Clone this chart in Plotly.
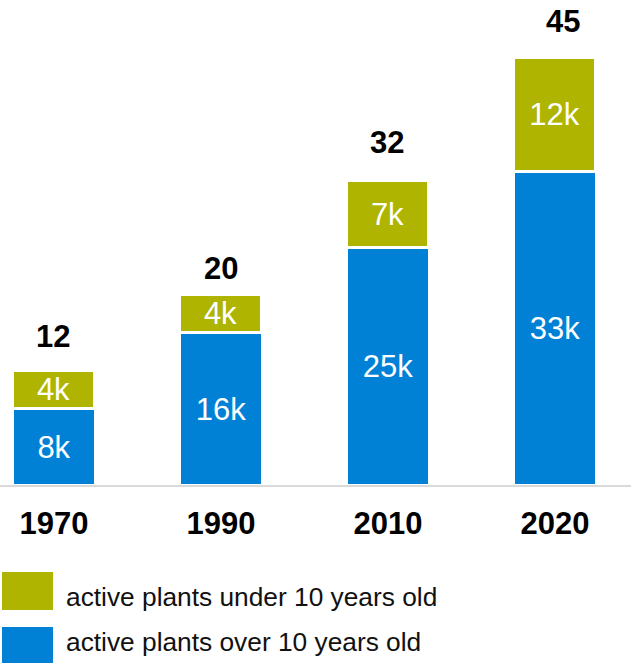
import plotly.graph_objects as go

# Plant counts (thousands) by year
years = ["1970", "1990", "2010", "2020"]
over_10 = [8, 16, 25, 33]
under_10 = [4, 4, 7, 12]
over_labels = ["8k", "16k", "25k", "33k"]
under_labels = ["4k", "4k", "7k", "12k"]
legend_names = ["active plants under 10 years old", "active plants over 10 years old"]

BLUE = "#0081D6"
GREEN = "#AEB400"
FONT = "Liberation Sans, Arial, sans-serif"

W, H = 631, 663
PLOT_BOTTOM = 485  # pixel row of the baseline
totals = [a + b for a, b in zip(over_10, under_10)]
xpos = list(range(len(years)))

# hand-placed nudges (px) for the total labels
total_nudge_x = [-1, 0, -1, 8]
total_nudge_y = [15, 7, 19, 17]

fig = go.Figure()
fig.add_trace(go.Bar(
    x=xpos, y=over_10, text=over_labels, width=0.49,
    marker=dict(color=BLUE, line=dict(color="white", width=2)),
    textposition="inside", insidetextanchor="middle", constraintext="none",
    textangle=0, textfont=dict(color="white", size=31, family=FONT),
    showlegend=False, hoverinfo="skip",
))
fig.add_trace(go.Bar(
    x=xpos, y=under_10, text=under_labels, width=0.49,
    marker=dict(color=GREEN, line=dict(color="white", width=3)),
    textposition="inside", insidetextanchor="middle", constraintext="none",
    textangle=0, textfont=dict(color="white", size=31, family=FONT),
    showlegend=False, hoverinfo="skip",
))

# totals above each stack
for x, t, dx, dy in zip(xpos, totals, total_nudge_x, total_nudge_y):
    fig.add_annotation(x=x, y=t, text=f"<b>{t}</b>", showarrow=False,
                       yanchor="bottom", xshift=dx, yshift=dy,
                       font=dict(size=31, color="black", family=FONT))


def py(p):
    """pixel row -> paper y"""
    return (PLOT_BOTTOM - p) / PLOT_BOTTOM


def px(p):
    return p / W


# legend swatches and labels
swatches = [(GREEN, 572, 610, 597), (BLUE, 627, 663, 642)]
for (col, top, bot, mid), name in zip(swatches, legend_names):
    fig.add_shape(type="rect", xref="paper", yref="paper",
                  x0=px(2), x1=px(53), y0=py(bot), y1=py(top),
                  fillcolor=col, line=dict(width=0))
    fig.add_annotation(xref="paper", yref="paper", x=px(64), y=py(mid),
                       xanchor="left", yanchor="middle", showarrow=False,
                       text=name, font=dict(size=26.3, color="#111111", family=FONT))

fig.update_layout(
    width=W, height=H,
    margin=dict(l=0, r=0, t=0, b=H - PLOT_BOTTOM),
    barmode="stack", bargap=0,
    plot_bgcolor="white", paper_bgcolor="white",
    xaxis=dict(range=[-0.323, 3.455], tickvals=xpos,
               ticktext=[f"<b>{y}</b>" for y in years],
               tickfont=dict(size=31, color="black", family=FONT),
               showline=True, linecolor="#d9d9d9", linewidth=2,
               showgrid=False, zeroline=False, ticks="",
               ticklabelstandoff=10, fixedrange=True),
    yaxis=dict(range=[0, PLOT_BOTTOM / 9.5], visible=False, fixedrange=True),
)

fig.write_html("out.html")
